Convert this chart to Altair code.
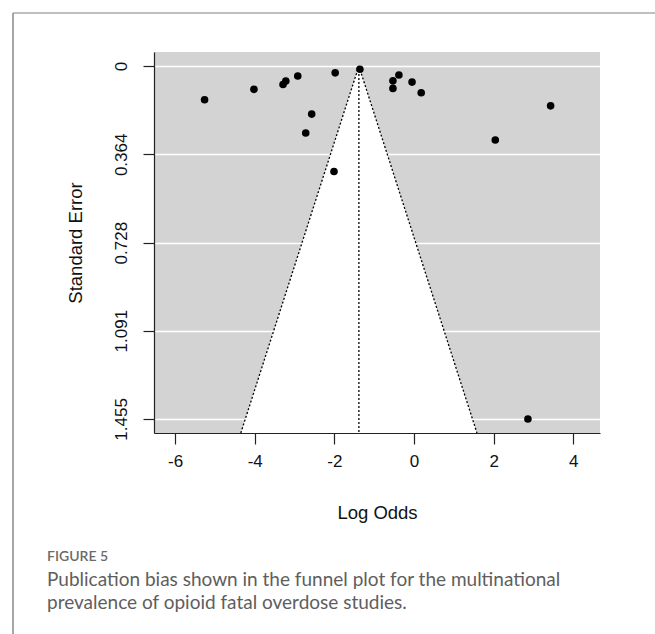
import altair as alt
import pandas as pd

# Study points
log_odds = [-5.26, -4.02, -3.29, -3.22, -2.92, -1.98, -1.36, -2.57, -2.72, -2.01,
            -0.53, -0.53, -0.38, -0.05, 0.18, 3.43, 2.04, 2.86]
std_err = [0.139, 0.096, 0.076, 0.062, 0.041, 0.028, 0.013, 0.198, 0.276, 0.435,
           0.061, 0.092, 0.037, 0.066, 0.110, 0.164, 0.305, 1.455]

pooled_estimate = -1.385
se_axis_max = 1.513
x_domain = [-6.53, 4.67]
y_domain = [-0.058, 1.513]
x_ticks = [-6, -4, -2, 0, 2, 4]
y_ticks = [0, 0.364, 0.728, 1.091, 1.455]

caption_label = "FIGURE 5"
caption_line1 = "Publication bias shown in the funnel plot for the multinational"
caption_line2 = "prevalence of opioid fatal overdose studies."

points = pd.DataFrame({"lo": log_odds, "se": std_err})

funnel_se = [0.0, se_axis_max]
funnel = pd.DataFrame({
    "se": funnel_se,
    "lower": [pooled_estimate - 1.96 * s for s in funnel_se],
    "upper": [pooled_estimate + 1.96 * s for s in funnel_se],
    "mid": [pooled_estimate for s in funnel_se],
})

xs = alt.Scale(domain=x_domain, nice=False, zero=False)
ys = alt.Scale(domain=y_domain, nice=False, zero=False, reverse=True)

x_axis = alt.Axis(values=x_ticks, title="Log Odds", grid=False, labelPadding=9,
                  titlePadding=34, tickSize=11, labelFontSize=17, titleFontSize=18.5,
                  labelExpr="'' + datum.value")
y_axis = alt.Axis(values=y_ticks, title="Standard Error", format=".3~f", grid=True,
                  labelAngle=-90, labelAlign="center", labelBaseline="bottom",
                  labelPadding=13, titlePadding=27, tickSize=11, labelFontSize=17,
                  titleFontSize=18.5)


def X(field):
    return alt.X(field, type="quantitative", scale=xs, axis=x_axis)


def Y(field):
    return alt.Y(field, type="quantitative", scale=ys, axis=y_axis)


area = alt.Chart(funnel).mark_area(orient="horizontal", color="white", opacity=1).encode(
    y=Y("se"), x=X("lower"), x2="upper")
edge_lo = alt.Chart(funnel).mark_line(color="black", strokeDash=[2, 2], strokeWidth=1.3).encode(
    y=Y("se"), x=X("lower"))
edge_hi = alt.Chart(funnel).mark_line(color="black", strokeDash=[2, 2], strokeWidth=1.3).encode(
    y=Y("se"), x=X("upper"))
center = alt.Chart(funnel).mark_line(color="black", strokeDash=[2, 2], strokeWidth=1.3).encode(
    y=Y("se"), x=X("mid"))

pts = alt.Chart(points).mark_circle(color="black", opacity=1, size=58).encode(
    x=X("lo"), y=Y("se"))

one = pd.DataFrame({"a": [0]})
frame_top = alt.Chart(one).mark_rule(color="#aaaaaa", strokeWidth=1.5).encode(
    x=alt.value(-141), x2=alt.value(501), y=alt.value(-39))
frame_left = alt.Chart(one).mark_rule(color="#888888", strokeWidth=1.5).encode(
    x=alt.value(-141), y=alt.value(-39), y2=alt.value(582))

cap0 = alt.Chart(one).mark_text(align="left", baseline="alphabetic", font="Lato",
                                fontSize=14, fontWeight=600, color="#6a6a6a").encode(
    x=alt.value(-107), y=alt.value(509), text=alt.value(caption_label))
cap1 = alt.Chart(one).mark_text(align="left", baseline="alphabetic", font="Lato",
                                fontSize=19, color="#5e5e5e").encode(
    x=alt.value(-107), y=alt.value(534), text=alt.value(caption_line1))
cap2 = alt.Chart(one).mark_text(align="left", baseline="alphabetic", font="Lato",
                                fontSize=19, color="#5e5e5e").encode(
    x=alt.value(-107), y=alt.value(557), text=alt.value(caption_line2))

chart = alt.layer(area, edge_lo, edge_hi, center, pts, frame_top, frame_left,
                  cap0, cap1, cap2).properties(
    width=446, height=381,
    autosize=alt.AutoSizeParams(type="none"),
    padding={"left": 154, "top": 52, "right": 55, "bottom": 201},
    background="white",
).configure_view(fill="#d3d3d3", stroke=None).configure_axis(
    domainColor="#222", tickColor="#222", labelColor="#111", titleColor="#111",
    labelFont="Liberation Sans", titleFont="Liberation Sans",
    titleFontWeight="normal", gridColor="white", gridWidth=1.6,
    domainWidth=1.2, tickWidth=1.2,
)

chart.save("out.html", embed_options={"renderer": "svg", "actions": False})
